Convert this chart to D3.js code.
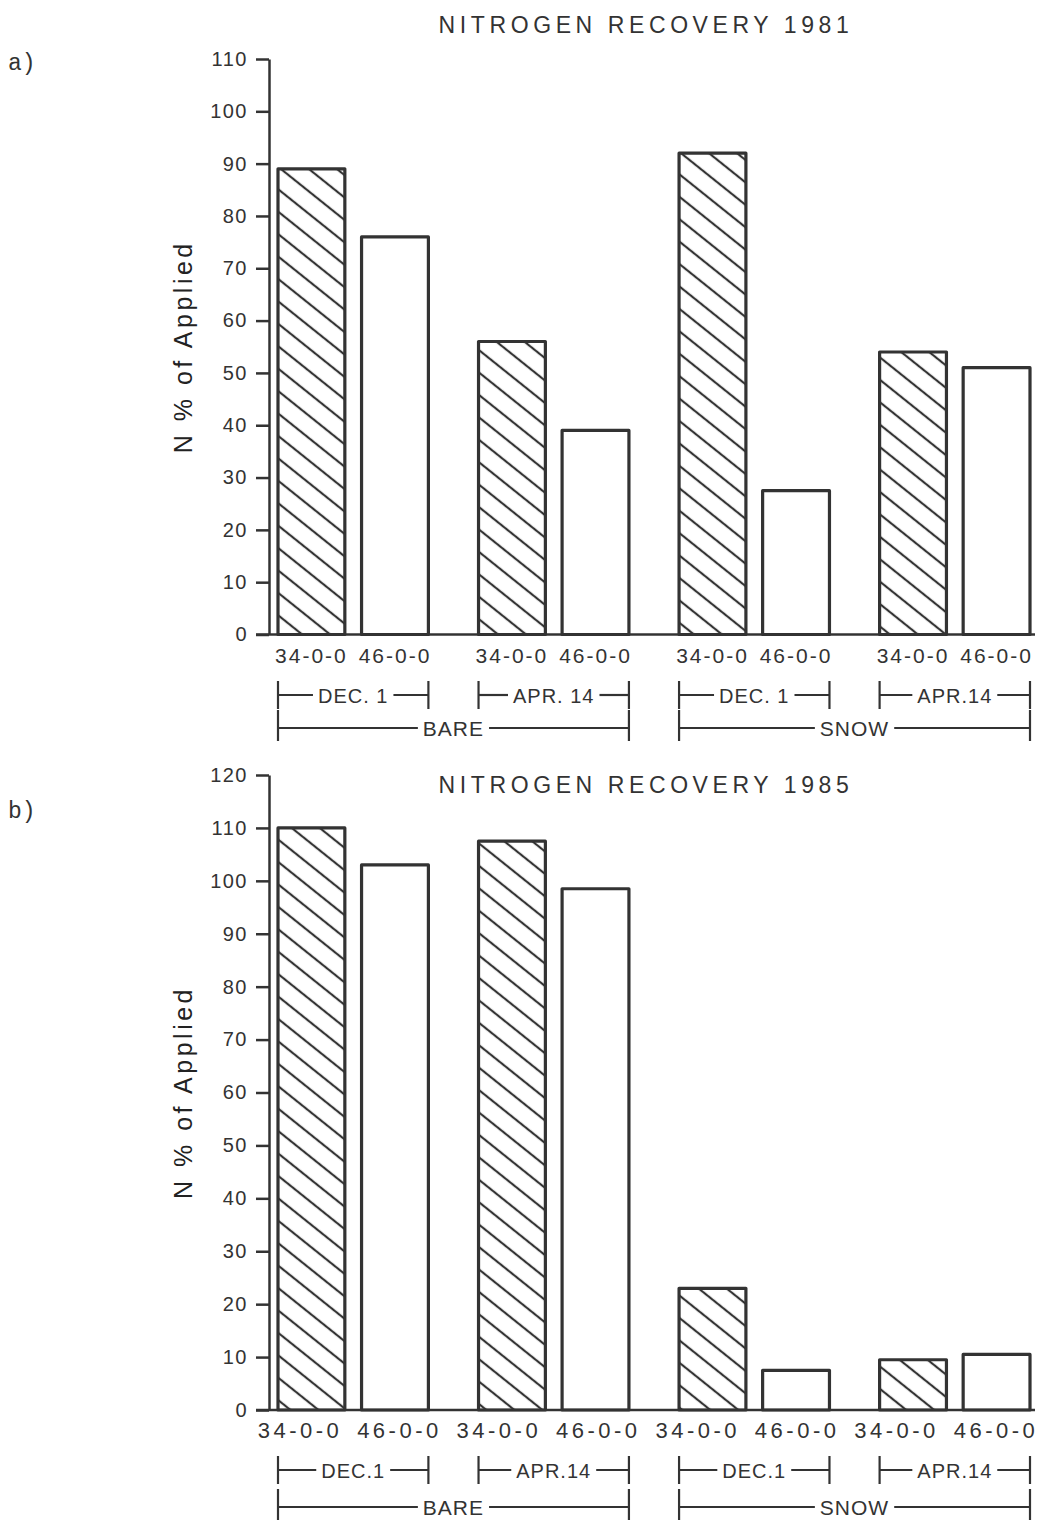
<!DOCTYPE html>
<html>
<head>
<meta charset="utf-8">
<script src="https://cdn.jsdelivr.net/npm/d3@7"></script>
<style>
  html, body { margin: 0; padding: 0; background: #fff; }
  svg { display: block; }
</style>
</head>
<body>
<svg id="chart" width="1050" height="1529"></svg>
<script>
// ---------------- data ----------------
const fertilizers = ["34-0-0", "46-0-0"];
const groups = ["Bare Dec 1", "Bare Apr 14", "Snow Dec 1", "Snow Apr 14"];
const surfaces = ["BARE", "SNOW"];

const recovery1981_34 = [89, 56, 92, 54];
const recovery1981_46 = [76, 39, 27.5, 51];
const recovery1985_34 = [110, 107.5, 23, 9.5];
const recovery1985_46 = [103, 98.5, 7.5, 10.5];

const ticks1981 = [0, 10, 20, 30, 40, 50, 60, 70, 80, 90, 100, 110];
const ticks1985 = [0, 10, 20, 30, 40, 50, 60, 70, 80, 90, 100, 110, 120];

const dates1981 = ["DEC. 1", "APR. 14", "DEC. 1", "APR.14"];
const dates1985 = ["DEC.1", "APR.14", "DEC.1", "APR.14"];

const titles = ["NITROGEN RECOVERY 1981", "NITROGEN RECOVERY 1985"];
const panelLabels = ["a)", "b)"];
const yTitle = "N % of Applied";

// ---------------- drawing ----------------
const svg = d3.select("#chart");
const INK = "#333";
const SANS = "'Liberation Sans', Arial, sans-serif";

const defs = svg.append("defs");
const pat = defs.append("pattern")
  .attr("id", "hatch")
  .attr("patternUnits", "userSpaceOnUse")
  .attr("width", 20).attr("height", 17.5)
  .attr("patternTransform", "rotate(38.7)");
pat.append("path").attr("d", "M-2,8.75H22").attr("stroke", INK).attr("stroke-width", 2.2);

function drawChart(cfg) {
  const g = svg.append("g");
  const x0 = d3.scaleBand().domain(groups).range([278, 1030]).paddingInner(0.25).paddingOuter(0);
  const x1 = d3.scaleBand().domain(fertilizers).range([0, x0.bandwidth()]).paddingInner(0.2).paddingOuter(0);
  const y = d3.scaleLinear().domain([0, cfg.ticks[cfg.ticks.length - 1]]).range([cfg.yBase, cfg.yTop]);

  // panel label
  g.append("text").attr("x", 8).attr("y", cfg.panelY)
    .attr("font-family", "'Liberation Mono', 'DejaVu Sans Mono', monospace")
    .attr("font-size", 23).attr("fill", INK).text(cfg.panel);

  // title
  g.append("text").attr("x", 646).attr("y", cfg.titleY).attr("text-anchor", "middle")
    .attr("font-family", SANS).attr("font-size", 23).attr("letter-spacing", 4.6)
    .attr("fill", INK).text(cfg.title);

  // y axis
  const yAxis = d3.axisLeft(y).tickValues(cfg.ticks).tickSize(13).tickSizeOuter(0).tickPadding(8)
    .tickFormat(d3.format("d"));
  const ya = g.append("g").attr("transform", "translate(269,0)").call(yAxis);
  ya.select(".domain").attr("stroke", INK).attr("stroke-width", 2.5);
  ya.selectAll(".tick line").attr("stroke", INK).attr("stroke-width", 2.5);
  ya.selectAll(".tick text").attr("font-family", SANS).attr("font-size", 20)
    .attr("letter-spacing", 1.5).attr("fill", INK);

  // y title
  const ymid = (cfg.yBase + cfg.yTop) / 2;
  g.append("text").attr("transform", `translate(192,${ymid}) rotate(-90)`)
    .attr("text-anchor", "middle").attr("font-family", SANS).attr("font-size", 25)
    .attr("letter-spacing", 3.5).attr("fill", "#222").text(yTitle);

  // bars
  const rows = groups.map((grp, i) => [
    { grp, fert: fertilizers[0], v: cfg.v34[i] },
    { grp, fert: fertilizers[1], v: cfg.v46[i] }
  ]).flat();
  g.selectAll("rect.bar").data(rows).join("rect")
    .attr("class", "bar")
    .attr("x", d => x0(d.grp) + x1(d.fert))
    .attr("width", x1.bandwidth())
    .attr("y", d => y(d.v))
    .attr("height", d => y(0) - y(d.v))
    .attr("fill", d => d.fert === fertilizers[0] ? "url(#hatch)" : "#fff")
    .attr("stroke", INK).attr("stroke-width", 3.2).attr("stroke-linejoin", "round");

  // baseline
  g.append("line").attr("x1", 256).attr("x2", 1035).attr("y1", y(0)).attr("y2", y(0))
    .attr("stroke", INK).attr("stroke-width", 2.5);

  // category labels
  const labelX = cfg.evenLabels
    ? (() => { const p = d3.scalePoint().domain(d3.range(rows.length)).range(cfg.labelRange); return (d, i) => p(i); })()
    : (d => x0(d.grp) + x1(d.fert) + x1.bandwidth() / 2);
  g.selectAll("text.cat").data(rows).join("text").attr("class", "cat")
    .attr("x", labelX)
    .attr("y", y(0) + 28).attr("text-anchor", "middle")
    .attr("font-family", SANS).attr("font-size", cfg.catSize).attr("letter-spacing", cfg.catSpacing)
    .attr("fill", INK).text(d => d.fert);

  // bracket helper
  function bracket(xa, xb, yc, up, down, label, fs) {
    const t = g.append("text").attr("x", (xa + xb) / 2).attr("y", yc + 7.5)
      .attr("text-anchor", "middle").attr("font-family", SANS).attr("font-size", fs)
      .attr("letter-spacing", 1).attr("fill", INK).text(label);
    const bb = t.node().getBBox();
    const gap = 5;
    g.append("line").attr("x1", xa).attr("x2", bb.x - gap).attr("y1", yc).attr("y2", yc)
      .attr("stroke", INK).attr("stroke-width", 2.2);
    g.append("line").attr("x1", bb.x + bb.width + gap).attr("x2", xb).attr("y1", yc).attr("y2", yc)
      .attr("stroke", INK).attr("stroke-width", 2.2);
    [xa, xb].forEach(xx => g.append("line").attr("x1", xx).attr("x2", xx)
      .attr("y1", yc - up).attr("y2", yc + down).attr("stroke", INK).attr("stroke-width", 2.2));
  }
  groups.forEach((grp, i) => {
    bracket(x0(grp), x0(grp) + x0.bandwidth(), cfg.row1, 14, 14, cfg.dates[i], 20);
  });
  surfaces.forEach((s, i) => {
    const a = x0(groups[i * 2]);
    const b = x0(groups[i * 2 + 1]) + x0.bandwidth();
    bracket(a, b, cfg.row2, 18, 13, s, 21);
  });
}

drawChart({
  panel: panelLabels[0], panelY: 70, title: titles[0], titleY: 33,
  yTop: 59, yBase: 634.5, ticks: ticks1981, v34: recovery1981_34, v46: recovery1981_46,
  dates: dates1981, row1: 695, row2: 728, catSize: 21, catSpacing: 2, evenLabels: false
});
drawChart({
  panel: panelLabels[1], panelY: 818, title: titles[1], titleY: 793,
  yTop: 775, yBase: 1410, ticks: ticks1985, v34: recovery1985_34, v46: recovery1985_46,
  dates: dates1985, row1: 1470, row2: 1507, catSize: 22, catSpacing: 3.5,
  evenLabels: true, labelRange: [300, 996]
});
</script>
</body>
</html>
